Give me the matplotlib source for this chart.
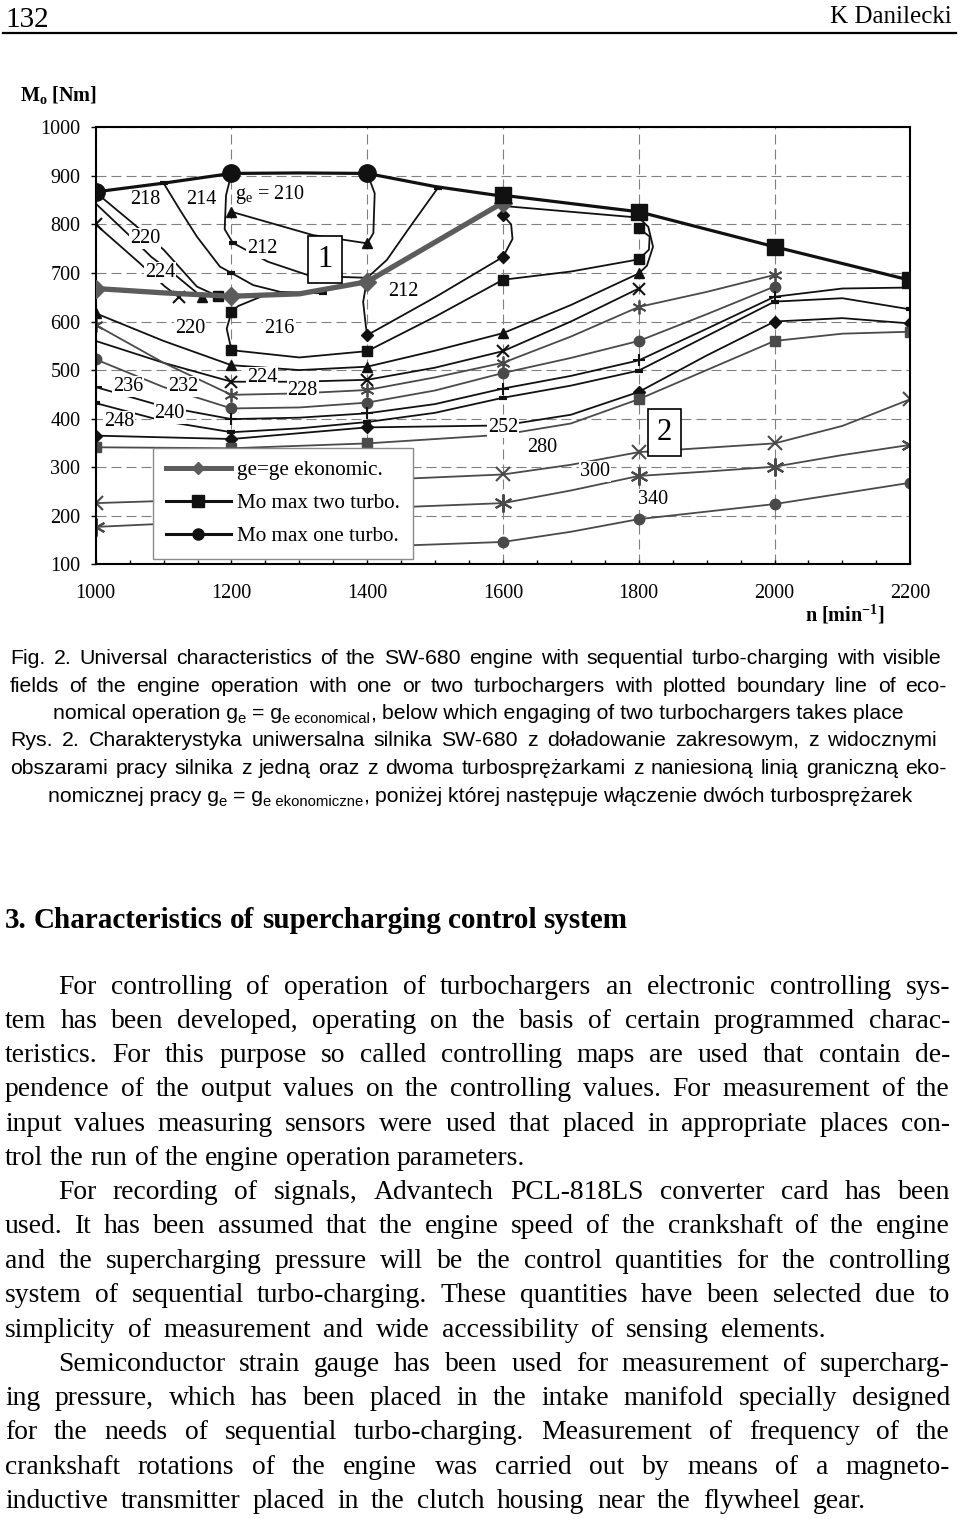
import matplotlib
matplotlib.use("Agg")
import matplotlib.pyplot as plt
from matplotlib.lines import Line2D
from matplotlib.ticker import MultipleLocator

plt.rcParams["font.family"] = ["Liberation Serif", "DejaVu Serif"]
plt.rcParams["mathtext.fontset"] = "custom"
plt.rcParams["mathtext.rm"] = "Liberation Serif"
plt.rcParams["mathtext.it"] = "Liberation Serif:italic"
plt.rcParams["mathtext.bf"] = "Liberation Serif:bold"

W, H = 960, 1519

# ---------------- chart data (n [1/min], Mo [Nm]) ----------------
one_n = [1000, 1100, 1200, 1300, 1400, 1500, 1600]
one_m = [867, 885, 905, 906, 905, 878, 858]
two_n = [1600, 1800, 2000, 2200]
two_m = [860, 826, 754, 685]
eko_n = [1000, 1100, 1200, 1300, 1400, 1600]
eko_m = [668, 659, 652, 657, 682, 845]

# field of one turbocharger (above economical line)
c210_n = [1200, 1320, 1400, 1409, 1411, 1400]
c210_m = [826, 778, 761, 782, 864, 905]
c212a_n = [1200, 1192, 1190, 1202, 1254, 1316, 1400]
c212a_m = [905, 860, 790, 762, 723, 694, 690]
c214_n = [1100, 1124, 1149, 1183, 1200, 1232, 1272, 1335]
c214_m = [885, 830, 775, 713, 700, 675, 661, 658]
c212b_n = [1504, 1463, 1429, 1400]
c212b_m = [875, 795, 727, 690]
c220_n = [1000, 1055, 1100, 1149, 1180]
c220_m = [866, 802, 748, 672, 652]
c224_n = [1000, 1046, 1082, 1117, 1156]
c224_m = [843, 782, 733, 696, 651]
cx_n = [1000, 1065, 1102, 1122]
cx_m = [800, 720, 672, 651]

# field of two turbochargers
dia_up_n = [1400, 1394, 1398, 1400, 1500, 1600, 1614, 1612, 1600]
dia_up_m = [690, 640, 590, 572, 650, 733, 770, 800, 819]
sq_n = [1245, 1210, 1200, 1193, 1200, 1300, 1400, 1500, 1600, 1700, 1800, 1815, 1816, 1800]
sq_m = [652, 632, 620, 585, 541, 526, 539, 610, 686, 703, 728, 748, 775, 792]
tri_n = [1000, 1100, 1200, 1300, 1400, 1500, 1600, 1700, 1800, 1812, 1821, 1814, 1800, 1700, 1600]
tri_m = [617, 560, 510, 500, 507, 540, 576, 634, 699, 715, 754, 795, 814, 826, 838]
x_n = [1000, 1100, 1200, 1300, 1400, 1500, 1600, 1700, 1800]
x_m = [560, 515, 476, 476, 480, 505, 539, 600, 668]
ast_n = [1000, 1100, 1200, 1300, 1400, 1500, 1600, 1700, 1800, 1900, 2000]
ast_m = [593, 515, 449, 452, 459, 485, 515, 569, 630, 661, 696]
circ_n = [1000, 1100, 1200, 1300, 1400, 1500, 1600, 1700, 1800, 1900, 2000]
circ_m = [522, 465, 421, 423, 433, 458, 494, 525, 560, 615, 672]
plus_n = [1000, 1100, 1200, 1300, 1400, 1500, 1600, 1700, 1800, 1900, 2000, 2100, 2200]
plus_m = [465, 425, 399, 402, 411, 430, 462, 488, 520, 585, 651, 668, 670]
dash_n = [1000, 1100, 1200, 1300, 1400, 1500, 1600, 1700, 1800, 1900, 2000, 2100, 2200]
dash_m = [432, 395, 372, 380, 393, 412, 443, 468, 499, 570, 641, 648, 625]
dia_n = [1000, 1200, 1400, 1600, 1700, 1800, 1900, 2000, 2100, 2200]
dia_m = [365, 358, 382, 386, 408, 455, 530, 600, 607, 596]
gsq_n = [1000, 1200, 1400, 1600, 1700, 1800, 1900, 2000, 2100, 2200]
gsq_m = [341, 339, 349, 367, 390, 440, 500, 560, 575, 579]
c280_n = [1000, 1200, 1400, 1600, 1700, 1800, 2000, 2100, 2200]
c280_m = [226, 235, 273, 285, 305, 331, 349, 385, 440]
c300_n = [1000, 1200, 1400, 1600, 1700, 1800, 1900, 2000, 2100, 2200]
c300_m = [177, 190, 215, 226, 252, 282, 291, 301, 325, 346]
c340_n = [1200, 1400, 1600, 1700, 1800, 2000, 2200]
c340_m = [132, 136, 146, 167, 193, 224, 268]

label_txt = ["218", "214", "220", "212", "224", "212", "220", "216", "236", "232",
             "224", "228", "248", "240", "252", "280", "300", "340"]
label_n = [1073, 1156, 1073, 1245, 1095, 1453, 1139, 1271, 1048, 1129,
           1245, 1305, 1034, 1109, 1600, 1657, 1736, 1821]
label_m = [851, 851, 771, 751, 700, 661, 586, 586, 466, 466,
           485, 458, 395, 410, 382, 341, 291, 234]

legend_labels = ["ge=ge ekonomic.", "Mo max two turbo.", "Mo max one turbo."]

caption = [
    "Fig. 2. Universal characteristics of the SW-680 engine with sequential turbo-charging with visible",
    "fields of the engine operation with one or two turbochargers with plotted boundary line of eco-",
    "Rys. 2. Charakterystyka uniwersalna silnika SW-680 z doładowanie zakresowym, z widocznymi",
    "obszarami pracy silnika z jedną oraz z dwoma turbosprężarkami z naniesioną linią graniczną eko-",
]
heading = "3. Characteristics of supercharging control system"
body = [
    "For controlling of operation of turbochargers an electronic controlling sys-",
    "tem has been developed, operating on the basis of certain programmed charac-",
    "teristics. For this purpose so called controlling maps are used that contain de-",
    "pendence of the output values on the controlling values. For measurement of the",
    "input values measuring sensors were used that placed in appropriate places con-",
    "trol the run of the engine operation parameters.",
    "For recording of signals, Advantech PCL-818LS converter card has been",
    "used. It has been assumed that the engine speed of the crankshaft of the engine",
    "and the supercharging pressure will be the control quantities for the controlling",
    "system of sequential turbo-charging. These quantities have been selected due to",
    "simplicity of measurement and wide accessibility of sensing elements.",
    "Semiconductor strain gauge has been used for measurement of supercharg-",
    "ing pressure, which has been placed in the intake manifold specially designed",
    "for the needs of sequential turbo-charging. Measurement of frequency of the",
    "crankshaft rotations of the engine was carried out by means of a magneto-",
    "inductive transmitter placed in the clutch housing near the flywheel gear.",
]

fig = plt.figure(figsize=(9.6, 15.19), dpi=100)
R = fig.canvas.get_renderer()


def fx(x):
    return x / W


def fy(y):
    return 1 - y / H


def width(t):
    return t.get_window_extent(R).width


def space_w(size, family, weight="normal"):
    a = fig.text(0, 0, "x x", fontsize=size, family=family, weight=weight)
    b = fig.text(0, 0, "xx", fontsize=size, family=family, weight=weight)
    w = width(a) - width(b)
    a.remove()
    b.remove()
    return w


def justify(line, y, x0, x1, size, family, weight="normal", full=True):
    words = line.split()
    ts = [fig.text(0, 0, w, fontsize=size, family=family, weight=weight,
                   va="baseline") for w in words]
    ws = [width(t) for t in ts]
    if full and len(ws) > 1:
        gap = (x1 - x0 - sum(ws)) / (len(ws) - 1)
    else:
        gap = space_w(size, family, weight)
    x = x0
    for t, w in zip(ts, ws):
        t.set_position((fx(x), fy(y)))
        x += w + gap


def rich(parts, xc, y, size, family):
    # parts: (text, scale, dy_px, space_after)
    sp = space_w(size, family)
    ts = []
    total = 0
    for txt, sc, dy, spc in parts:
        t = fig.text(0, 0, txt, fontsize=size * sc, family=family, va="baseline")
        w = width(t)
        ts.append((t, dy, w, spc))
        total += w + (sp if spc else 0)
    x = xc - total / 2
    for t, dy, w, spc in ts:
        t.set_position((fx(x), fy(y + dy)))
        x += w + (sp if spc else 0)


# ---------------- page header ----------------
fig.text(fx(5), fy(27), "132", fontsize=21, va="baseline", ha="left")
fig.text(fx(952), fy(23), "K Danilecki", fontsize=18, va="baseline", ha="right")
fig.add_artist(Line2D([fx(3), fx(956)], [fy(32.5), fy(32.5)], color="k", lw=1.6))

# ---------------- chart ----------------
ax = fig.add_axes([fx(95.7), fy(564.3), 814.6 / W, 437 / H])
ax.set_xlim(1000, 2200)
ax.set_ylim(100, 1000)
ax.xaxis.set_major_locator(MultipleLocator(200))
ax.xaxis.set_minor_locator(MultipleLocator(50))
ax.yaxis.set_major_locator(MultipleLocator(100))
ax.tick_params(axis="x", which="both", direction="in", length=3, width=1,
               pad=14.5, labelsize=14.5)
ax.tick_params(axis="y", direction="out", length=3.6, width=1, pad=7.5, labelsize=14.5)
for s in ax.spines.values():
    s.set_linewidth(1.5)
ax.grid(True, which="major", color="#808080", lw=0.8, ls=(0, (9, 4.5)))
ax.set_axisbelow(True)

K = "#111111"
G = "#4a4a4a"
AST = (6, 2, 0)

field = [
    (c210_n, c210_m, "^", [0, 2], K, 1.3, 7.5, 1),
    (c212a_n, c212a_m, "_", [3], K, 1.3, 6, 3),
    (c214_n, c214_m, "_", [0, 4, 7], K, 1.3, 6, 3),
    (c212b_n, c212b_m, "_", [0], K, 1.3, 6, 3),
    (c220_n, c220_m, "s", [4], K, 1.3, 7.5, 1),
    (c224_n, c224_m, "^", [4], K, 1.3, 7.5, 1),
    (cx_n, cx_m, "x", [0, 3], K, 1.3, 9, 1.5),
    (dia_up_n, dia_up_m, "D", [3, 5, 8], K, 1.3, 6, 1),
    (sq_n, sq_m, "s", [2, 4, 6, 8, 10, 13], K, 1.3, 7, 1),
    (tri_n, tri_m, "^", [0, 2, 4, 6, 8], K, 1.3, 7.5, 1),
    (x_n, x_m, "x", [2, 4, 6, 8], K, 1.3, 9, 1.5),
    (ast_n, ast_m, AST, [0, 2, 4, 6, 8, 10], G, 1.3, 10, 1.3),
    (circ_n, circ_m, "o", [0, 2, 4, 6, 8, 10], G, 1.3, 7.5, 1),
    (plus_n, plus_m, "+", [0, 2, 4, 6, 8, 10], K, 1.3, 9, 1.5),
    (dash_n, dash_m, "_", [0, 2, 4, 6, 8, 10, 12], K, 1.3, 6, 3),
    (dia_n, dia_m, "D", [0, 1, 2, 5, 7, 9], K, 1.3, 6, 1),
    (gsq_n, gsq_m, "s", [0, 1, 2, 5, 7, 9], G, 1.3, 7.5, 1),
    (c280_n, c280_m, "x", [0, 3, 5, 6, 8], G, 1.3, 10, 1.5),
    (c300_n, c300_m, AST, [0, 3, 5, 7, 9], G, 1.3, 13, 1.5),
    (c340_n, c340_m, "o", [2, 4, 5, 6], G, 1.3, 7.5, 1),
]
for n, m, mk, every, col, lw, ms, mew in field:
    ax.plot(n, m, color=col, lw=lw, marker=mk, markevery=every, ms=ms,
            mfc=col, mec=col, mew=mew, zorder=2)

ax.plot(eko_n, eko_m, color="#5c5c5c", lw=3.8, marker="D", markevery=[0, 2, 4, 5],
        ms=9, mfc="#5c5c5c", mec="#5c5c5c", zorder=3)
ax.plot(one_n, one_m, color=K, lw=2.3, marker="o", markevery=[0, 2, 4], ms=12.5, zorder=4)
ax.plot(two_n, two_m, color=K, lw=2.3, marker="s", ms=12, zorder=4)

for t, n, m in zip(label_txt, label_n, label_m):
    ax.text(n, m, t, fontsize=14.5, ha="center", va="center", zorder=5,
            bbox=dict(boxstyle="square,pad=0.05", fc="white", ec="none"))
ax.text(1205, 852, r"g$_\mathrm{e}$ = 210", fontsize=14.5, ha="left", va="baseline", zorder=5)
ax.text(1338, 728, "1", fontsize=22, ha="center", va="center", zorder=6,
        bbox=dict(boxstyle="square,pad=0.3", fc="white", ec="k", lw=1.2))
ax.text(1838, 372, "2", fontsize=22, ha="center", va="center", zorder=6,
        bbox=dict(boxstyle="square,pad=0.3", fc="white", ec="k", lw=1.2))

handles = [
    Line2D([], [], color="#5c5c5c", lw=3.6, marker="D", ms=6, mfc="#5c5c5c", mec="#5c5c5c"),
    Line2D([], [], color=K, lw=2.2, marker="s", ms=8),
    Line2D([], [], color=K, lw=2.2, marker="o", ms=8),
]
leg = ax.legend(handles, legend_labels, loc="upper left",
                bbox_to_anchor=((153 - 95.7) / 814.6, (564.3 - 448) / 437),
                borderaxespad=0, fancybox=False, edgecolor="#8a8a8a", framealpha=1,
                fontsize=15.2, handlelength=3.1, handletextpad=0.3, borderpad=0.6,
                labelspacing=0.62)
leg.get_frame().set_linewidth(1.0)
leg.set_zorder(10)

fig.text(fx(20), fy(101), r"M$_\mathbf{o}$ [Nm]", fontsize=14.5, weight="bold", va="baseline")
fig.text(fx(805), fy(621), r"n [min$^{\mathbf{-1}}$]", fontsize=14.5, weight="bold",
         va="baseline")

# ---------------- caption ----------------
CAP = "Liberation Sans"
cs = 15.3
justify(caption[0], 664, 10, 942, cs, CAP)
justify(caption[1], 691.5, 10, 947, cs, CAP)
rich([("nomical operation g", 1, 0, False), ("e", 0.7, 4, True), ("= g", 1, 0, False),
      ("e economical", 0.7, 4, False), (",", 1, 0, True),
      ("below which engaging of two turbochargers takes place", 1, 0, False)],
     478, 719, cs, CAP)
justify(caption[2], 746.5, 10, 937, cs, CAP)
justify(caption[3], 774, 10, 947, cs, CAP)
rich([("nomicznej pracy g", 1, 0, False), ("e", 0.7, 4, True), ("= g", 1, 0, False),
      ("e ekonomiczne", 0.7, 4, False), (",", 1, 0, True),
      ("poniżej której następuje włączenie dwóch turbosprężarek", 1, 0, False)],
     480, 801.5, cs, CAP)

# ---------------- body text ----------------
SER = "Liberation Serif"
bs = 19.9
justify(heading, 928, 5, 632, 21, SER, weight="bold", full=False)
base = [994, 1028, 1062, 1096, 1131, 1165, 1199, 1233, 1268, 1302, 1337,
        1371, 1405, 1439, 1474, 1508]
right = [950] * 16
right[10] = 827
right[15] = 866
first = {0, 6, 11}
for i, (line, y) in enumerate(zip(body, base)):
    x0 = 58 if i in first else 5
    justify(line, y, x0, right[i], bs, SER, full=i != 5)

fig.savefig("out.png", dpi=100)
